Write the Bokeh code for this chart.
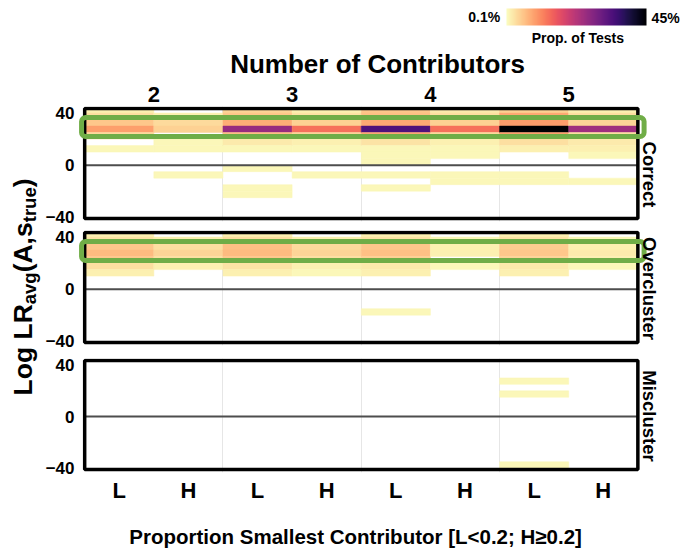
import math
from bokeh.plotting import figure
from bokeh.layouts import row, column
from bokeh.models import Range1d, Label, ColorBar, LogColorMapper, FixedTicker, ColumnDataSource
from bokeh.palettes import Magma256
from bokeh.embed import file_html
from bokeh.resources import INLINE

# ---------------- data ----------------
CONTRIBUTORS = ["2", "3", "4", "5"]
PROPORTION = ["L", "H"]
PANELS = ["Correct", "Overcluster", "Miscluster"]
BIN_WIDTH = 5                    # width of a log LR bin
PCT_LOW, PCT_HIGH = 0.1, 45      # colour scale ends (% of tests)
Y_TICKS = [-40, 0, 40]
HIGHLIGHT = (22, 36.5)           # log LR band outlined in green

# % of tests, by column and lower edge of the log LR bin
correct = {
    "2L": {40: 0.12, 35: 0.15, 30: 0.2, 25: 0.34, 20: 0.16, 10: 0.11},
    "2H": {35: 0.12, 30: 0.16, 25: 0.18, 15: 0.11, 10: 0.11, -10: 0.11},
    "3L": {40: 0.17, 35: 0.2, 30: 0.28, 25: 3.3, 20: 0.22, 15: 0.13, 10: 0.11,
           -5: 0.11, -20: 0.11, -25: 0.11},
    "3H": {40: 0.12, 35: 0.14, 30: 0.18, 25: 0.62, 20: 0.17, 15: 0.12, 10: 0.11, -10: 0.11},
    "4L": {40: 0.2, 35: 0.22, 30: 0.3, 25: 9.8, 20: 0.3, 15: 0.14, 10: 0.11, 5: 0.11,
           0: 0.11, -10: 0.11, -20: 0.11},
    "4H": {40: 0.13, 35: 0.15, 30: 0.18, 25: 0.62, 20: 0.16, 15: 0.12, 10: 0.11, 5: 0.11,
           -10: 0.11, -15: 0.11},
    "5L": {40: 0.18, 35: 0.3, 30: 0.35, 25: 45, 20: 0.33, 15: 0.15, 10: 0.12, -10: 0.11, -15: 0.11},
    "5H": {40: 0.12, 35: 0.15, 30: 0.17, 25: 2.9, 20: 0.15, 15: 0.13, 10: 0.12, 5: 0.11, -15: 0.11},
}
overcluster = {
    "2L": {40: 0.12, 35: 0.14, 30: 0.2, 25: 0.24, 20: 0.2, 15: 0.15, 10: 0.12},
    "2H": {35: 0.12, 30: 0.15, 25: 0.17, 20: 0.15, 15: 0.12},
    "3L": {40: 0.12, 35: 0.15, 30: 0.22, 25: 0.24, 20: 0.2, 15: 0.14, 10: 0.12},
    "3H": {35: 0.12, 30: 0.16, 25: 0.17, 20: 0.15, 15: 0.12, 10: 0.11},
    "4L": {40: 0.12, 35: 0.14, 30: 0.2, 25: 0.22, 20: 0.18, 15: 0.13, 10: 0.12, -20: 0.11},
    "4H": {35: 0.11, 30: 0.12, 25: 0.12, 15: 0.11},
    "5L": {40: 0.12, 35: 0.14, 30: 0.19, 25: 0.2, 20: 0.17, 15: 0.13, 10: 0.12},
    "5H": {35: 0.11, 30: 0.12, 25: 0.13, 20: 0.12, 15: 0.11},
}
miscluster = {
    "5L": {25: 0.11, 15: 0.11, -40: 0.11},
}
PANEL_DATA = [correct, overcluster, miscluster]

# ---------------- layout constants (page pixels) ----------------
FONT = "Liberation Sans"
COLS = [c + p for c in CONTRIBUTORS for p in PROPORTION]
NCOL = len(COLS)
YL_W = 42
COL_W = 686 - YL_W
LEFT_B, RIGHT_B = 34, 0
FRAME_W = COL_W - LEFT_B - RIGHT_B
FRAME_LEFT_PAGE = YL_W + LEFT_B
PX_PER_COL = 69.375
X0 = -(82.2 - FRAME_LEFT_PAGE) / PX_PER_COL
X1 = X0 + FRAME_W / PX_PER_COL
YB, YT = -41, 43.5             # panel box
BOX_PX = 110
PAD_TOP, PAD_BOT = 2, 3
FRAME_H = BOX_PX + PAD_TOP + PAD_BOT
U_PER_PX = (YT - YB) / BOX_PX
Y0, Y1 = YB - PAD_BOT * U_PER_PX, YT + PAD_TOP * U_PER_PX
GREEN_X = (-0.045, 8.09)

HD_H = 80                        # colour bar + title
# (height, top border, bottom border) of each panel figure
PANEL_GEOM = [(147, 26, 147 - 26 - FRAME_H), (125, 3, 125 - 3 - FRAME_H), (153, 6, 153 - 6 - FRAME_H)]
FT_H = 548 - HD_H - sum(g[0] for g in PANEL_GEOM)


def data_x(px):
    return X0 + (px - FRAME_LEFT_PAGE) / PX_PER_COL


def data_y(py, frame_top):
    return Y1 - (py - frame_top) * (Y1 - Y0) / FRAME_H


mapper = LogColorMapper(palette=list(reversed(Magma256)), low=PCT_LOW, high=PCT_HIGH)


def cells(panel_data):
    d = dict(left=[], right=[], bottom=[], top=[], pct=[])
    for i, col in enumerate(COLS):
        for lo, v in panel_data.get(col, {}).items():
            d["left"].append(i)
            d["right"].append(i + 1)
            d["bottom"].append(max(lo, YB))
            d["top"].append(min(lo + BIN_WIDTH, YT))
            d["pct"].append(v)
    return ColumnDataSource(d)


def style_axis(ax, size, standoff):
    ax.axis_line_color = None
    ax.major_tick_line_color = None
    ax.minor_tick_line_color = None
    ax.major_tick_out = 0
    ax.major_tick_in = 0
    ax.major_label_standoff = standoff
    ax.major_label_text_font = FONT
    ax.major_label_text_font_style = "bold"
    ax.major_label_text_font_size = size
    ax.major_label_text_color = "black"


def make_panel(idx, frame_top, strip_y):
    height, top_b, bot_b = PANEL_GEOM[idx]
    xloc = "above" if idx == 0 else ("below" if idx == len(PANELS) - 1 else None)
    p = figure(width=COL_W, height=height, x_range=Range1d(X0, X1), y_range=Range1d(Y0, Y1),
               output_backend="svg", toolbar_location=None,
               min_border_left=LEFT_B, min_border_right=RIGHT_B,
               min_border_top=top_b, min_border_bottom=bot_b,
               x_axis_location=xloc,
               background_fill_color="white", border_fill_color="white",
               outline_line_color=None)
    p.xgrid.ticker = FixedTicker(ticks=[2, 4, 6])
    p.xgrid.grid_line_color = "#E6E6E6"
    p.xgrid.grid_line_width = 1
    p.ygrid.grid_line_color = None

    ya = p.yaxis[0]
    ya.ticker = FixedTicker(ticks=Y_TICKS)
    style_axis(ya, "17px", 4)

    if xloc == "above":
        xa = p.xaxis[0]
        ticks = [2 * k + 1 for k in range(len(CONTRIBUTORS))]
        xa.ticker = FixedTicker(ticks=ticks)
        xa.major_label_overrides = {t: CONTRIBUTORS[k] for k, t in enumerate(ticks)}
        style_axis(xa, "22px", 5)
    elif xloc == "below":
        xa = p.xaxis[0]
        ticks = [i + 0.5 for i in range(NCOL)]
        xa.ticker = FixedTicker(ticks=ticks)
        xa.major_label_overrides = {t: COLS[i][-1] for i, t in enumerate(ticks)}
        style_axis(xa, "22px", 5)

    src = cells(PANEL_DATA[idx])
    p.quad(left="left", right="right", bottom="bottom", top="top", source=src,
           fill_color={"field": "pct", "transform": mapper},
           line_color={"field": "pct", "transform": mapper}, line_width=0.5)
    p.segment(x0=[0], x1=[NCOL], y0=[0], y1=[0], line_color="#4D4D4D", line_width=2)
    p.quad(left=[0], right=[NCOL], bottom=[YB], top=[YT], fill_color=None,
           line_color="black", line_width=3.5)
    if idx < 2:
        p.quad(left=[GREEN_X[0]], right=[GREEN_X[1]], bottom=[HIGHLIGHT[0]], top=[HIGHLIGHT[1]],
               fill_color=None, line_color="#70AD47", line_width=5, border_radius=4)

    p.add_layout(Label(x=data_x(649), y=data_y(strip_y, frame_top), text=PANELS[idx],
                       angle=-math.pi / 2, text_align="center", text_baseline="middle",
                       text_font=FONT, text_font_style="bold", text_font_size="18.5px",
                       text_color="black"))
    return p


tops = []
acc = HD_H
for h, tb, bb in PANEL_GEOM:
    tops.append(acc + tb)
    acc += h
p1 = make_panel(0, tops[0], 174)
p2 = make_panel(1, tops[1], 288)
p3 = make_panel(2, tops[2], 416)


def blank(height, y_top):
    f_ = figure(width=COL_W, height=height, x_range=Range1d(X0, X1),
                y_range=Range1d(y_top + height, y_top),
                output_backend="svg", toolbar_location=None,
                min_border_left=LEFT_B, min_border_right=RIGHT_B, min_border_top=0,
                min_border_bottom=0, x_axis_location=None, y_axis_location=None,
                outline_line_color=None, background_fill_color="white", border_fill_color="white")
    f_.xgrid.grid_line_color = None
    f_.ygrid.grid_line_color = None
    return f_


def txt(fig, x, y, s, size, align="center", baseline="middle", angle=0.0):
    fig.add_layout(Label(x=x, y=y, text=s, text_font=FONT, text_font_style="bold",
                         text_font_size=size, text_align=align, text_baseline=baseline,
                         angle=angle, text_color="black"))


# ---------------- header ----------------
hd = blank(HD_H, 0)
cb = ColorBar(color_mapper=mapper, orientation="horizontal",
              location=(506 - FRAME_LEFT_PAGE - 2, HD_H - 25),
              width=140, height=17, padding=0, margin=0,
              ticker=FixedTicker(ticks=[]), major_label_text_font_size="0px",
              major_tick_line_color=None, minor_tick_line_color=None,
              bar_line_color=None, border_line_color=None, background_fill_alpha=0)
hd.add_layout(cb, "center")
txt(hd, data_x(376), 63.5, "Number of Contributors", "26px")
txt(hd, data_x(499), 16.7, "0.1%", "14px", align="right")
txt(hd, data_x(651), 17.3, "45%", "14px", align="left")
txt(hd, data_x(577), 37.5, "Prop. of Tests", "14px")

# ---------------- footer (x title) ----------------
ft = blank(FT_H, 548 - FT_H)
txt(ft, data_x(354), 536, "Proportion Smallest Contributor [L<0.2; H\u22650.2]", "20.5px")

# ---------------- y title ----------------
yl = figure(width=YL_W, height=548, x_range=Range1d(0, YL_W), y_range=Range1d(548, 0),
            output_backend="svg", toolbar_location=None, min_border=0,
            x_axis_location=None, y_axis_location=None, outline_line_color=None,
            background_fill_color="white", border_fill_color="white")
yl.xgrid.grid_line_color = None
yl.ygrid.grid_line_color = None

F, f = 26.5, 18.5
pieces = [("Log LR", F, 3.444), ("avg", f, 1.723), ("(A,s", F, 1.889), ("true", f, 1.889), (")", F, 0.333)]
total = sum(sz * em for _, sz, em in pieces)
ycur = 286.5 + total / 2
for s, sz, em in pieces:
    xc = 22.8 if sz == F else 29.0
    txt(yl, xc, ycur, s, "%spx" % sz, align="left", angle=math.pi / 2)
    ycur -= sz * em

layout = row(yl, column(hd, p1, p2, p3, ft))
open("out.html", "w").write(file_html(layout, INLINE))
